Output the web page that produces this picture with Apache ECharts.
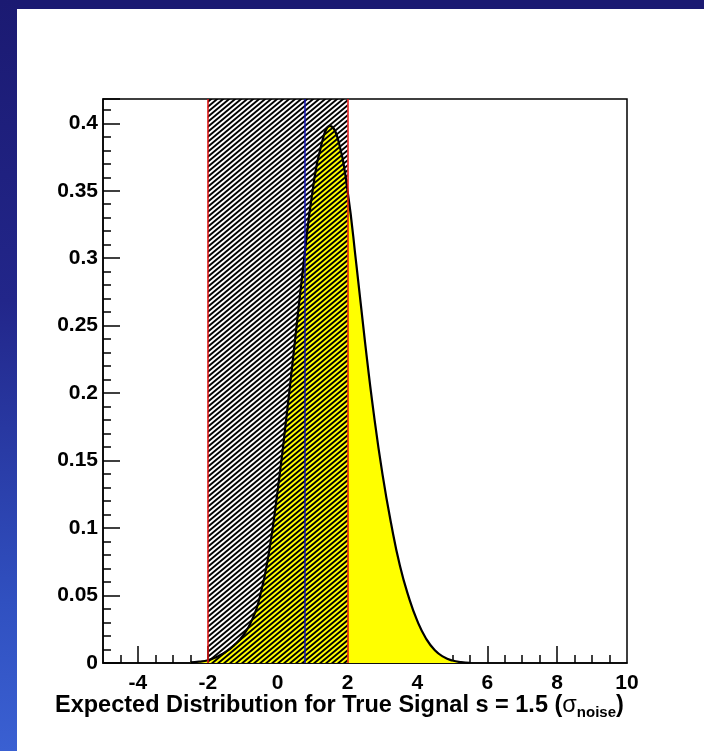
<!DOCTYPE html>
<html>
<head>
<meta charset="utf-8">
<script src="https://cdn.jsdelivr.net/npm/echarts@6/dist/echarts.min.js"></script>
<style>
  html, body { margin: 0; padding: 0; background: #ffffff; }
  #wrap { position: relative; width: 704px; height: 751px; background: #ffffff; overflow: hidden; }
  #topband { position: absolute; left: 0; top: 0; width: 704px; height: 9px; background: #1b1a72; }
  #leftband { position: absolute; left: 0; top: 0; width: 17px; height: 751px;
    background: linear-gradient(to bottom, #1b1a72 0%, #22268a 40%, #3050c0 80%, #3a60d2 100%); }
  #chart { position: absolute; left: 0; top: 0; width: 704px; height: 751px; }
</style>
</head>
<body>
<div id="wrap">
  <div id="topband"></div>
  <div id="leftband"></div>
  <div id="chart"></div>
</div>
<script>
// ---- data ----
const curveX = [-2.5, -2.25, -2, -1.75, -1.5, -1.25, -1, -0.75, -0.5, -0.25, 0, 0.25, 0.5, 0.75, 1, 1.25, 1.5, 1.75, 2, 2.25, 2.5, 2.75, 3, 3.25, 3.5, 3.75, 4, 4.25, 4.5, 4.75, 5, 5.25, 5.5];
const curveY = [0.0005, 0.001, 0.002, 0.0045, 0.008, 0.013, 0.020, 0.031, 0.050, 0.082, 0.128, 0.182, 0.240, 0.298, 0.350, 0.384, 0.398, 0.386, 0.350, 0.296, 0.238, 0.185, 0.140, 0.103, 0.072, 0.049, 0.031, 0.018, 0.0095, 0.0045, 0.0018, 0.0006, 0.0002];
const bandLow = -2;       // red line / hatched band start
const bandHigh = 2;       // red line / hatched band end
const blueLineX = 0.78;   // blue line
const xMajorTicks = [-4, -2, 0, 2, 4, 6, 8];
const xLabels = [-4, -2, 0, 2, 4, 6, 8, 10];
const xMinorTicks = [-4.5, -3.5, -3, -2.5, -1.5, -1, -0.5, 0.5, 1, 1.5, 2.5, 3, 3.5, 4.5, 5, 5.5, 6.5, 7, 7.5, 8.5, 9, 9.5];

const curveData = curveX.map((x, i) => [x, curveY[i]]);

// hatch pattern (/ lines)
const PW = 6, PH = 5;
const pc = document.createElement('canvas');
pc.width = PW; pc.height = PH;
const pctx = pc.getContext('2d');
pctx.strokeStyle = '#000';
pctx.lineWidth = 1.9;
for (let k = -2; k <= 2; k++) {
  pctx.beginPath();
  pctx.moveTo(k * PW - PW, 2 * PH);
  pctx.lineTo(k * PW + 2 * PW, -PH);
  pctx.stroke();
}

const FONT = 'Liberation Sans, Arial, Helvetica, sans-serif';
const chart = echarts.init(document.getElementById('chart'), null, { renderer: 'canvas' });

const option = {
  backgroundColor: 'transparent',
  animation: false,
  title: {
    left: 55, top: 694, padding: 0,
    text: '{a|Expected Distribution for True Signal s = 1.5 (}{s|σ}{b|noise}{a|)}',
    textStyle: {
      rich: {
        a: { fontFamily: FONT, fontWeight: 'bold', fontSize: 23.5, color: '#000', lineHeight: 26, verticalAlign: 'top' },
        s: { fontFamily: FONT, fontWeight: 'normal', fontSize: 23.5, color: '#000', lineHeight: 26, verticalAlign: 'top' },
        b: { fontFamily: FONT, fontWeight: 'bold', fontSize: 15, color: '#000', lineHeight: 15, padding: [20, 0, 0, 0], verticalAlign: 'bottom' }
      }
    }
  },
  grid: {
    left: 103, right: 77, top: 99, bottom: 88,
    show: true, borderColor: '#000', borderWidth: 1.5, backgroundColor: '#fff'
  },
  xAxis: [
    {
      type: 'value', min: -5, max: 10, position: 'bottom',
      axisLine: { show: true, onZero: false, lineStyle: { color: '#000', width: 1.5 } },
      axisTick: { show: true, inside: true, length: 17, customValues: xMajorTicks, lineStyle: { color: '#000', width: 1.5 } },
      axisLabel: { show: true, customValues: xLabels, color: '#000', fontFamily: FONT, fontWeight: 'bold', fontSize: 21, margin: 10 },
      splitLine: { show: false }
    },
    {
      type: 'value', min: -5, max: 10, position: 'bottom',
      axisLine: { show: false, onZero: false },
      axisTick: { show: true, inside: true, length: 8, customValues: xMinorTicks, lineStyle: { color: '#000', width: 1.5 } },
      axisLabel: { show: false },
      splitLine: { show: false }
    }
  ],
  yAxis: {
    type: 'value', min: 0, max: 0.418, interval: 0.05,
    axisLine: { show: true, onZero: false, lineStyle: { color: '#000', width: 1.5 } },
    axisTick: { show: true, inside: true, length: 17, lineStyle: { color: '#000', width: 1.5 } },
    minorTick: { show: true, splitNumber: 5, length: 8, lineStyle: { color: '#000', width: 1.5 } },
    axisLabel: { color: '#000', fontFamily: FONT, fontWeight: 'bold', fontSize: 21, margin: 5, showMaxLabel: false },
    splitLine: { show: false },
    minorSplitLine: { show: false }
  },
  series: [
    {
      name: 'fill', type: 'line', xAxisIndex: 0, data: curveData, smooth: 0.5,
      symbol: 'none', lineStyle: { width: 0 }, areaStyle: { color: '#ffff00', opacity: 1 }, z: 1,
      silent: true
    },
    {
      name: 'hatch', type: 'line', xAxisIndex: 0, data: [], z: 3, silent: true,
      markArea: {
        silent: true, z: 3,
        itemStyle: { color: { image: pc, repeat: 'repeat' }, borderWidth: 0 },
        data: [[{ xAxis: bandLow }, { xAxis: bandHigh }]]
      }
    },
    {
      name: 'curve', type: 'line', xAxisIndex: 0, data: curveData, smooth: 0.5,
      symbol: 'none', lineStyle: { color: '#000', width: 2.2 }, z: 4, silent: true
    },
    {
      name: 'lines', type: 'line', xAxisIndex: 0, data: [], z: 5, silent: true,
      markLine: {
        silent: true, z: 5, symbol: ['none', 'none'], label: { show: false },
        data: [
          { xAxis: bandLow, lineStyle: { color: '#e01010', width: 1.5, type: 'solid' } },
          { xAxis: bandHigh, lineStyle: { color: '#e01010', width: 1.5, type: 'solid' } },
          { xAxis: blueLineX, lineStyle: { color: '#1010b0', width: 1.5, type: 'solid' } }
        ]
      }
    }
  ]
};
chart.setOption(option);
</script>
</body>
</html>
